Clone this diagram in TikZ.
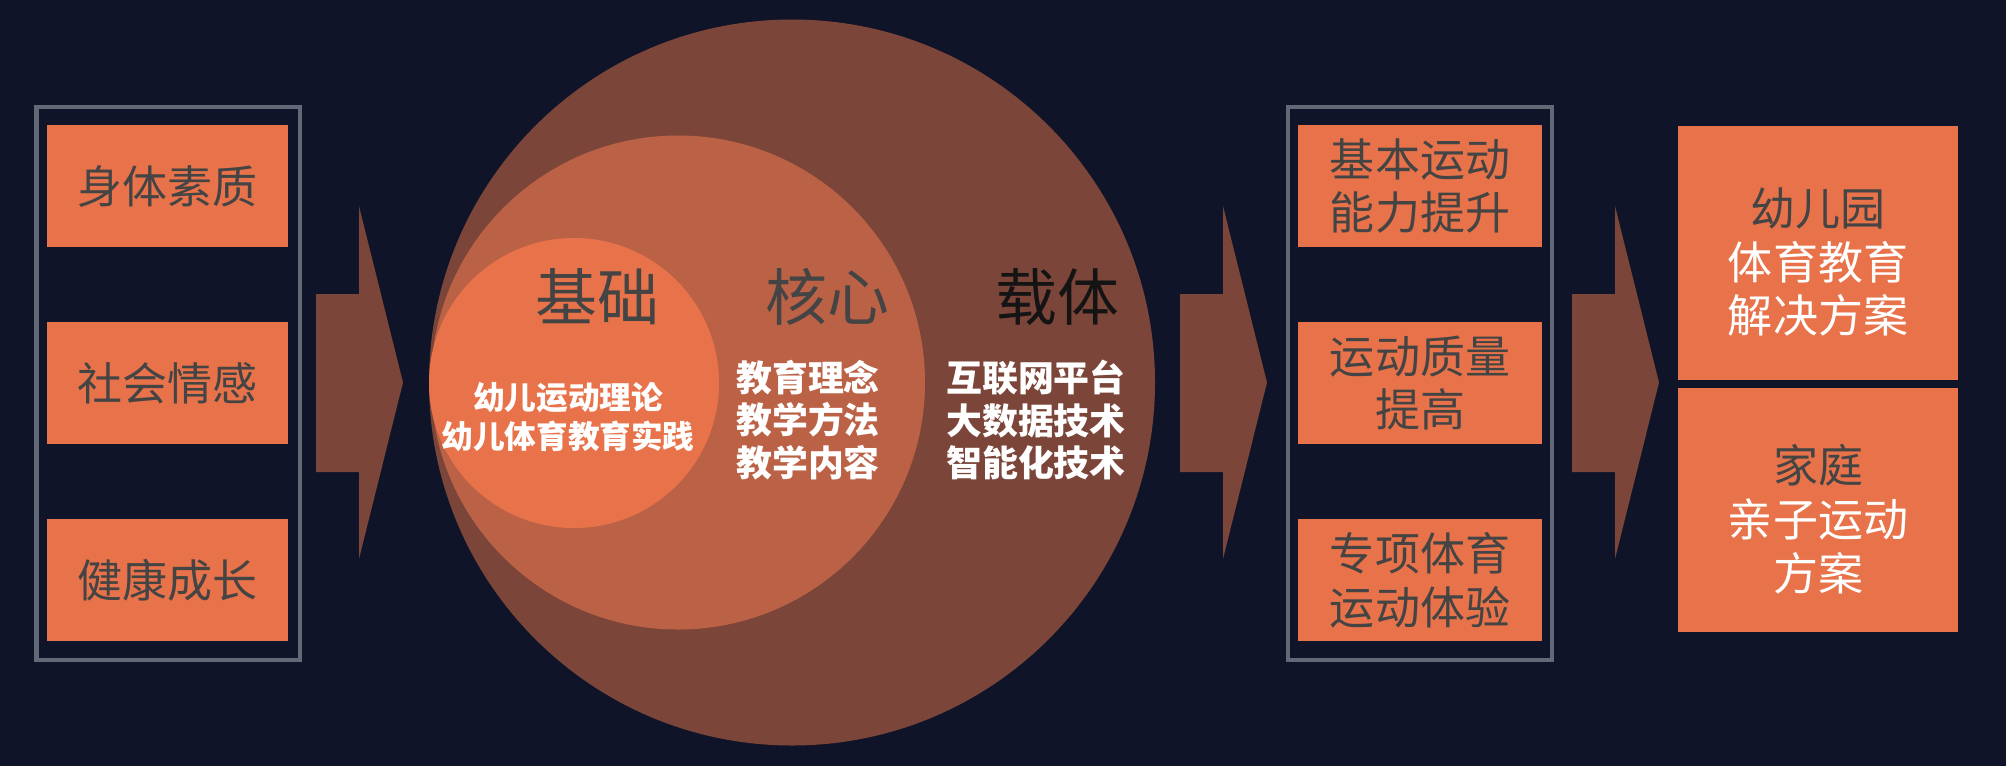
\documentclass[tikz,border=0pt]{standalone}
\usepackage{fontspec}
\setmainfont{Noto Sans CJK SC}
\usetikzlibrary{positioning}
\definecolor{bgnavy}{HTML}{0F1428}
\definecolor{boxorange}{HTML}{E8734A}
\definecolor{ringdark}{HTML}{7C4539}
\definecolor{ringmid}{HTML}{BB6246}
\definecolor{textgray}{HTML}{444444}
\definecolor{framegray}{HTML}{626876}

\begin{document}
\begin{tikzpicture}[x=0.01cm, y=-0.01cm,
    font=\fontsize{12.8}{15.3}\selectfont,
    box/.style={fill=boxorange, inner sep=0pt, minimum height=1.22cm, text=textgray, align=center},
    frame/.style={draw=framegray, line width=1.3pt},
    title/.style={font=\fontsize{17.6}{20}\selectfont, text=textgray},
    keys/.style={font=\bfseries\fontsize{10.2}{12}\selectfont, text=white, align=center}]
    % background, fixes the page size
    \fill[bgnavy] (0,0) rectangle (2006,766);
    \useasboundingbox (0,0) rectangle (2006,766);
    % ---------------- left column: goals
    \draw[frame] (36.5,107) rectangle (300,660);
    \node[box, minimum width=2.41cm] (body)   at (167.5,186) {身体素质};
    \node[box, minimum width=2.41cm] (social) at (167.5,383) {社会情感};
    \node[box, minimum width=2.41cm] (growth) at (167.5,580) {健康成长};
    % ---------------- big arrows
    \foreach \ax in {316,1180,1572}
      \fill[ringdark] (\ax,294) -- ({\ax+43},294) -- ({\ax+43},206) -- ({\ax+87},382.5)
        -- ({\ax+43},559) -- ({\ax+43},472) -- (\ax,472) -- cycle;
    % ---------------- nested circles
    \fill[ringdark] (792,382.5) circle (363);
    \fill[ringmid] (678,382.5) circle (247);
    \fill[boxorange] (574,383) circle (145);
    \node[title] (base)    at (597,297) {基础};
    \node[title] (core)    at (827,297) {核心};
    \node[title, text=black!92] (carrier) at (1057,297) {载体};
    \node[keys, font=\bfseries\fontsize{9}{11.1}\selectfont] (theory) at (568,417)
      {幼儿运动理论\\幼儿体育教育实践};
    \node[keys] (method) at (808,420) {教育理念\\教学方法\\教学内容};
    \node[keys] (tech)   at (1036,420) {互联网平台\\大数据技术\\智能化技术};
    % ---------------- middle column: outcomes
    \draw[frame] (1288,107) rectangle (1552,660);
    \node[box, minimum width=2.44cm] (ability) at (1420,186) {基本运动\\能力提升};
    \node[box, minimum width=2.44cm] (quality) at (1420,383) {运动质量\\提高};
    \node[box, minimum width=2.44cm] (special) at (1420,580) {专项体育\\运动体验};
    % ---------------- right column: solutions
    \node[box, minimum width=2.8cm, minimum height=2.54cm] (school) at (1818,253) {};
    \node[align=center, text=white] at ([yshift=-0.09cm]school.center)
      {{\color{textgray}幼儿园}\\体育教育\\解决方案};
    \node[box, minimum width=2.8cm, minimum height=2.44cm] (family) at (1818,510) {};
    \node[align=center, text=white] at ([yshift=-0.09cm]family.center)
      {{\color{textgray}家庭}\\亲子运动\\方案};
\end{tikzpicture}
\end{document}
